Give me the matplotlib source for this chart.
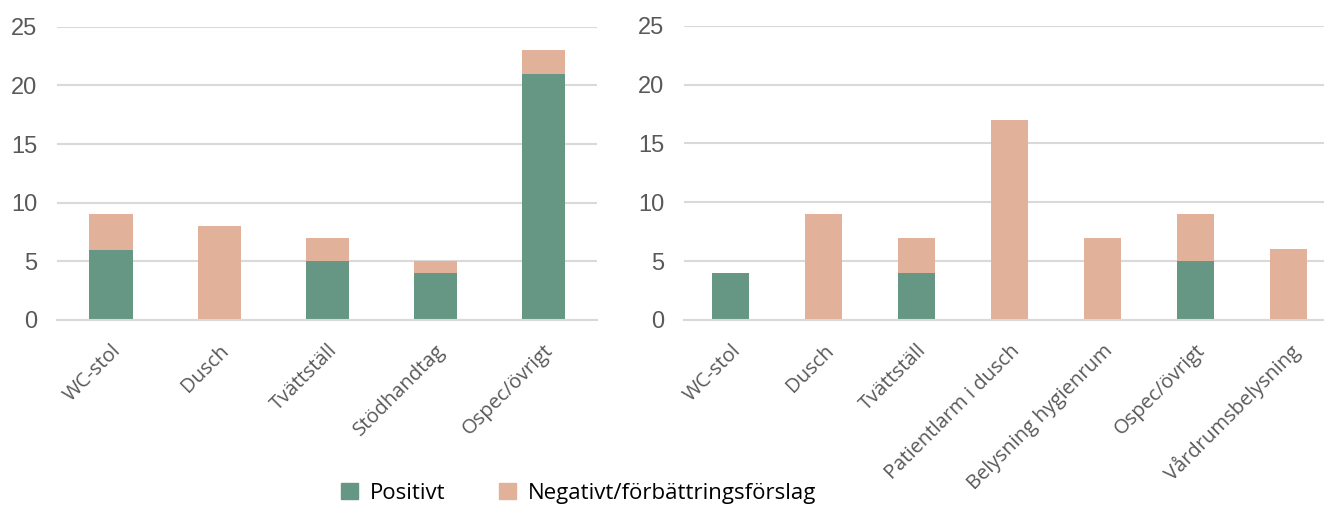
import matplotlib.pyplot as plt
from matplotlib import font_manager
from matplotlib.patches import Patch

# Counts per category, two panels
left_categories = ["WC-stol", "Dusch", "Tvättställ", "Stödhandtag", "Ospec/övrigt"]
left_positive = [6, 0, 5, 4, 21]
left_negative = [3, 8, 2, 1, 2]

right_categories = ["WC-stol", "Dusch", "Tvättställ", "Patientlarm i dusch",
                    "Belysning hygienrum", "Ospec/övrigt", "Vårdrumsbelysning"]
right_positive = [4, 0, 4, 0, 0, 5, 0]
right_negative = [0, 9, 3, 17, 7, 4, 6]

yticks = [0, 5, 10, 15, 20, 25]
legend_labels = ["Positivt", "Negativt/förbättringsförslag"]

green = "#669785"
salmon = "#E1B19A"
grid_gray = "#D9D9D9"
text_gray = "#595959"

installed = {f.name for f in font_manager.fontManager.ttflist}
num_font = "Liberation Sans Narrow" if "Liberation Sans Narrow" in installed else "Liberation Sans"

fig = plt.figure(figsize=(13.24, 5.07), dpi=100)
ax1 = fig.add_axes([0.0431, 0.369, 0.408, 0.578])
ax2 = fig.add_axes([0.5166, 0.369, 0.4917, 0.580])


def draw_panel(ax, cats, pos, neg):
    x = range(len(cats))
    ax.bar(x, pos, width=0.4, color=green, zorder=2)
    ax.bar(x, neg, width=0.4, bottom=pos, color=salmon, zorder=2)
    ax.set_xlim(-0.5, len(cats) - 0.5)
    ax.set_ylim(0, 25)
    ax.set_yticks(yticks)
    ax.set_yticklabels([str(v) for v in yticks], family=num_font,
                       fontsize=17, color=text_gray)
    ax.set_xticks(list(x))
    ax.set_xticklabels(cats, rotation=45, ha="right", rotation_mode="anchor",
                       family="Open Sans", fontsize=14.5, color=text_gray)
    ax.tick_params(axis="both", length=0)
    ax.tick_params(axis="y", pad=14)
    ax.tick_params(axis="x", pad=15)
    ax.grid(axis="y", color=grid_gray, linewidth=1.5, zorder=0)
    for side in ["top", "right", "left"]:
        ax.spines[side].set_visible(False)
    ax.spines["bottom"].set_color(grid_gray)
    ax.spines["bottom"].set_linewidth(1.5)


draw_panel(ax1, left_categories, left_positive, left_negative)
draw_panel(ax2, right_categories, right_positive, right_negative)

handles = [Patch(color=green), Patch(color=salmon)]
fig.legend(handles, legend_labels, loc="center", bbox_to_anchor=(0.437, 0.027),
           ncol=2, frameon=False, prop={"family": "Open Sans", "size": 16},
           handlelength=0.75, handleheight=0.75, handletextpad=0.55, columnspacing=2.4)

fig.savefig("out.png", dpi=100)
